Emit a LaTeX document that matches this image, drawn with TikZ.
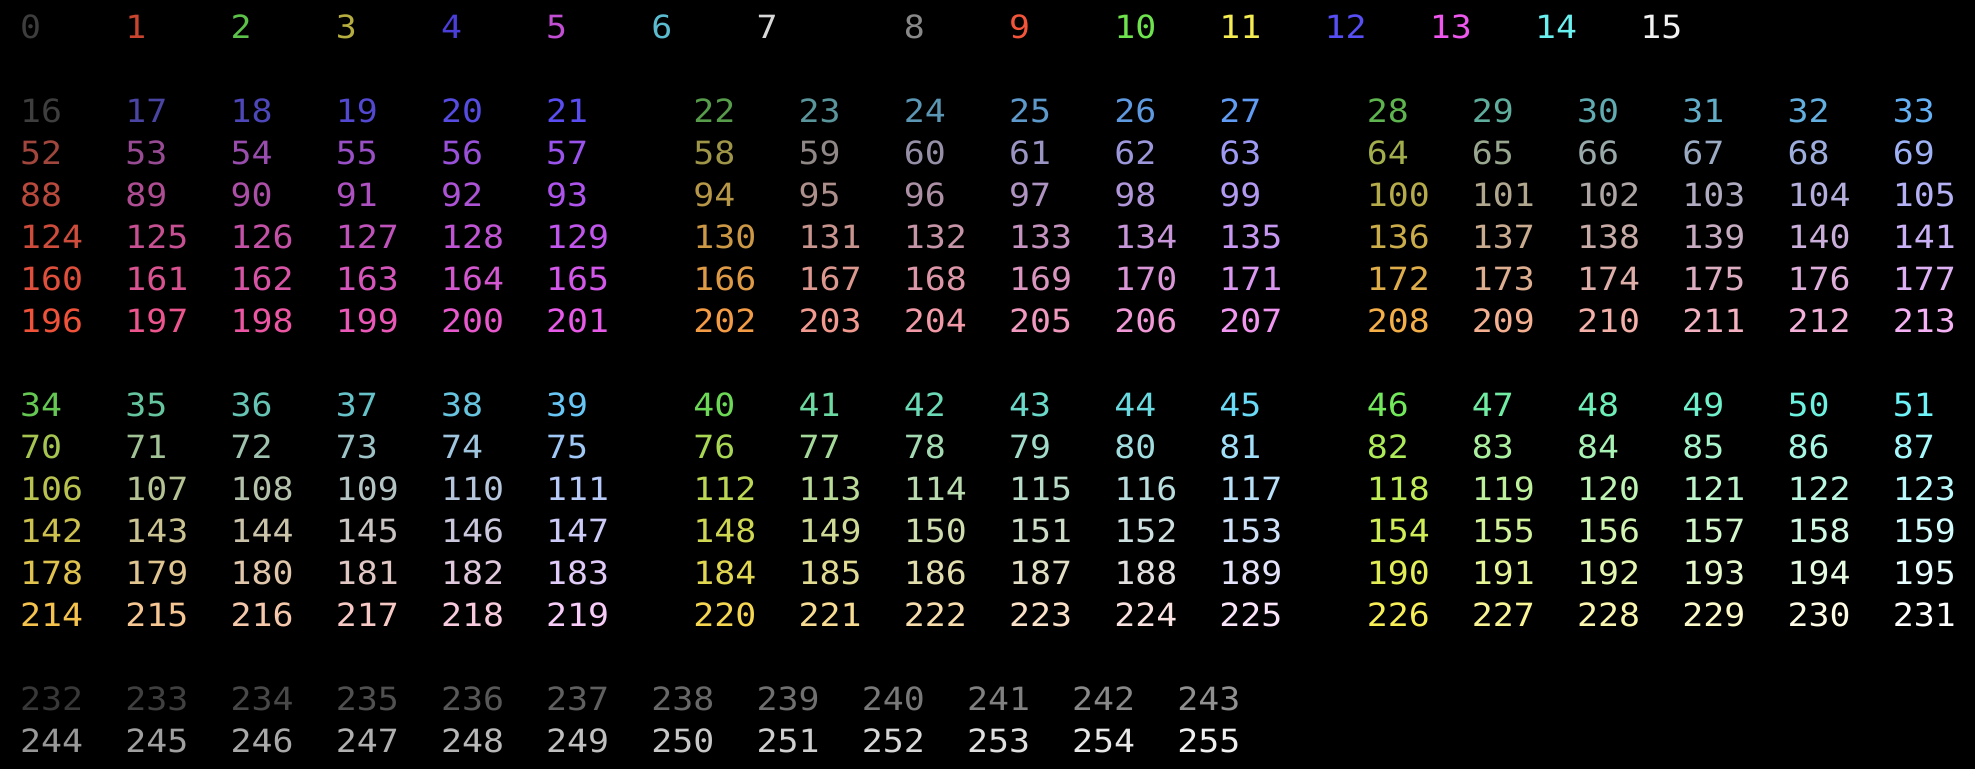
\documentclass[tikz,border=0pt]{standalone}
\usepackage{fontspec}
\newfontfamily\monofam[FakeStretch=1.09]{DejaVu Sans Mono}
\definecolor{c0}{HTML}{3D3D3D}
\definecolor{c1}{HTML}{C9452F}
\definecolor{c2}{HTML}{5CC24A}
\definecolor{c3}{HTML}{B5AD40}
\definecolor{c4}{HTML}{4A3ED8}
\definecolor{c5}{HTML}{C24FD3}
\definecolor{c6}{HTML}{5BBCD0}
\definecolor{c7}{HTML}{D8D8D8}
\definecolor{c8}{HTML}{888888}
\definecolor{c9}{HTML}{F4553A}
\definecolor{c10}{HTML}{6EE34E}
\definecolor{c11}{HTML}{F4EC52}
\definecolor{c12}{HTML}{574EF4}
\definecolor{c13}{HTML}{EF58EE}
\definecolor{c14}{HTML}{6BF0F0}
\definecolor{c15}{HTML}{F2F2F2}
% sRGB value (0-255) -> linear light
\newcommand\mylin[1]{\fpeval{((#1/255)>0.04045)?((((#1/255)+0.055)/1.055)^2.4):((#1/255)/12.92)}}
% linear light -> sRGB value (0-255)
\newcommand\mysrgb[1]{\fpeval{255*(((#1)>0.0031308)?(1.055*(#1)^(1/2.4)-0.055):(12.92*(#1)))}}
\newcommand\mycorner[4]{%
  \expandafter\xdef\csname #1R\endcsname{\mylin{#2}}%
  \expandafter\xdef\csname #1G\endcsname{\mylin{#3}}%
  \expandafter\xdef\csname #1B\endcsname{\mylin{#4}}%
  \expandafter\xdef\csname #1Rs\endcsname{#2}%
  \expandafter\xdef\csname #1Gs\endcsname{#3}%
  \expandafter\xdef\csname #1Bs\endcsname{#4}%
}
% cube corners
\mycorner{kz}{62}{62}{62}
\mycorner{kb}{90}{78}{242}
\mycorner{kg}{114}{233}{90}
\mycorner{kc}{109}{244}{248}
\mycorner{kr}{240}{82}{58}
\mycorner{km}{232}{90}{232}
\mycorner{ky}{247}{239}{85}
\mycorner{kw}{255}{255}{255}
% trilinear interpolation of one channel (#1 = channel suffix)
\newcommand\mytri[1]{\fpeval{max(0,min(1,(1-\ttR)*((1-\ttG)*((1-\ttB)*\csname kz#1\endcsname+\ttB*\csname kb#1\endcsname)+\ttG*((1-\ttB)*\csname kg#1\endcsname+\ttB*\csname kc#1\endcsname))+\ttR*((1-\ttG)*((1-\ttB)*\csname kr#1\endcsname+\ttB*\csname km#1\endcsname)+\ttG*((1-\ttB)*\csname ky#1\endcsname+\ttB*\csname kw#1\endcsname))))}}
\newcommand\mytriS[1]{\fpeval{(1-\ttR)*((1-\ttG)*((1-\ttB)*\csname kz#1s\endcsname+\ttB*\csname kb#1s\endcsname)+\ttG*((1-\ttB)*\csname kg#1s\endcsname+\ttB*\csname kc#1s\endcsname))+\ttR*((1-\ttG)*((1-\ttB)*\csname kr#1s\endcsname+\ttB*\csname km#1s\endcsname)+\ttG*((1-\ttB)*\csname ky#1s\endcsname+\ttB*\csname kw#1s\endcsname))}}
\newcommand\mychan[1]{%
  \edef\myA{\mytri{#1}}\edef\myA{\mysrgb{\myA}}%
  \edef\myB{\mytriS{#1}}%
  \expandafter\edef\csname v#1\endcsname{\fpeval{round(\wgt*\myA+(1-\wgt)*\myB)}}%
}
\tikzset{num/.style={anchor=base west,inner sep=0pt,outer sep=0pt,font=\monofam\fontsize{16}{16}\selectfont}}
\begin{document}
\begin{tikzpicture}[x=0.5pt,y=-0.5pt]
\fill[black] (0,0) rectangle (1975,769);
\useasboundingbox (0,0) rectangle (1975,769);
\def\chw{21.04}
\def\lx{20.2}
\def\by{38.4}
\def\lh{42}
% base 16 colours
\foreach \i in {0,...,15}{
  \pgfmathsetmacro\off{\i<8 ? 5*\i : 42+5*(\i-8)}
  \node[num,text=c\i] (n\i) at ({\lx+\off*\chw},{\by}) {\i};
}
% colour cube
\foreach \r in {0,...,5}{
 \foreach \g in {0,...,5}{
  \foreach \b in {0,...,5}{
   \pgfmathsetmacro\ttR{{0,0.37,0.53,0.69,0.84,1}[\r]}
   \pgfmathsetmacro\ttG{{0,0.37,0.53,0.69,0.84,1}[\g]}
   \pgfmathsetmacro\ttB{{0,0.37,0.53,0.69,0.84,1}[\b]}
   \edef\wgt{\fpeval{(1-min(\ttR,\ttG,\ttB)/max(\ttR,\ttG,\ttB,0.001))*(1-(\ttR+\ttG+\ttB-min(\ttR,\ttG,\ttB)-max(\ttR,\ttG,\ttB)))}}
   \mychan{R}\mychan{G}\mychan{B}
   \definecolor{cc}{RGB}{\vR,\vG,\vB}
   \pgfmathtruncatemacro\idx{16+36*\r+6*\g+\b}
   \pgfmathtruncatemacro\line{(\g<3 ? 2 : 9)+\r}
   \pgfmathtruncatemacro\off{mod(\g,3)*32+5*\b}
   \node[num,text=cc] (n\idx) at ({\lx+\off*\chw},{\by+\line*\lh}) {\idx};
  }
 }
}
% grey ramp
\foreach \i in {0,...,23}{
  \pgfmathtruncatemacro\v{round(56+(240-56)*\i/23)}
  \definecolor{gg}{RGB}{\v,\v,\v}
  \pgfmathtruncatemacro\idx{232+\i}
  \pgfmathtruncatemacro\line{\i<12 ? 16 : 17}
  \pgfmathtruncatemacro\off{5*mod(\i,12)}
  \node[num,text=gg] (n\idx) at ({\lx+\off*\chw},{\by+\line*\lh}) {\idx};
}
\end{tikzpicture}
\end{document}
